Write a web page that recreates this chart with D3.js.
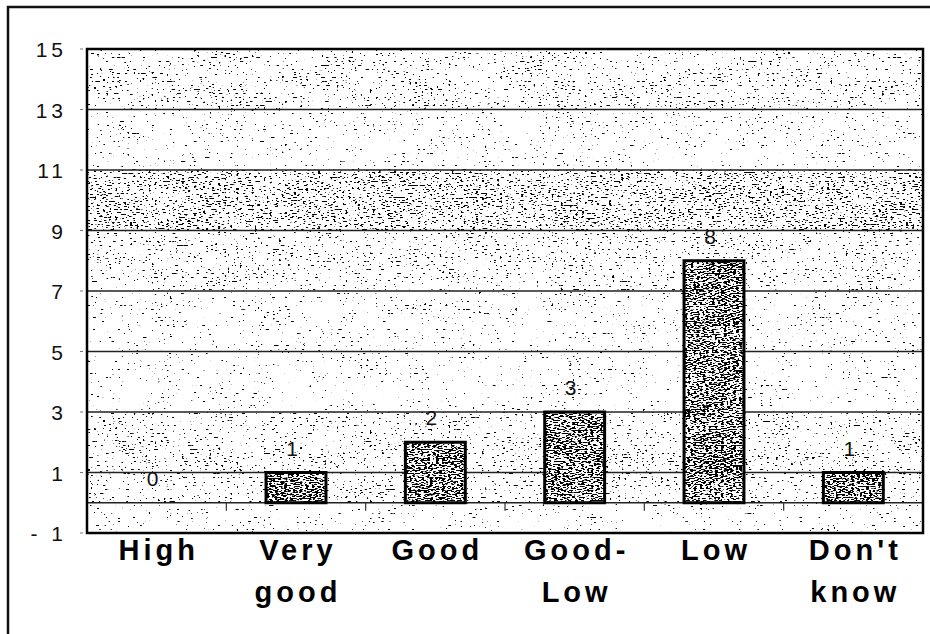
<!DOCTYPE html>
<html>
<head>
<meta charset="utf-8">
<script src="https://cdn.jsdelivr.net/npm/d3@7"></script>
<style>
  body { margin: 0; background: #fff; }
  svg { display: block; font-family: "Liberation Sans", Arial, sans-serif; }
</style>
</head>
<body>
<div id="app"></div>
<script>
// chart data
const categories = ['High', 'Very good', 'Good', 'Good-Low', 'Low', "Don't know"];
const categoryLines = [['High'], ['Very', 'good'], ['Good'], ['Good-', 'Low'], ['Low'], ["Don't", 'know']];
const values = [0, 1, 2, 3, 8, 1];
const yTicks = [-1, 1, 3, 5, 7, 9, 11, 13, 15];
const gridValues = [0, 1, 3, 5, 7, 9, 11, 13];

const WIDTH = 930;
const HEIGHT = 634;
const PLOT = { left: 87, right: 923, top: 49, bottom: 533 };

// stipple threshold per one-unit band, from -1..0 up to 14..15 (lower = darker)
const BAND_THRESHOLD = [0.70, 0.66, 0.655, 0.67, 0.70, 0.70, 0.695, 0.69,
  0.67, 0.66, 0.605, 0.61, 0.695, 0.69, 0.655, 0.67];
const BAR_THRESHOLD = 0.5;

const svg = d3.select('#app')
  .append('svg')
  .attr('width', WIDTH)
  .attr('height', HEIGHT);

const defs = svg.append('defs');

const y = d3.scaleLinear().domain([-1, 15]).range([PLOT.bottom, PLOT.top]);
const x = d3.scaleBand().domain(categories)
  .range([PLOT.left, PLOT.right])
  .paddingInner(0.57)
  .paddingOuter(0.285);

// scanned-halftone look: fine specks, lightly modulated by a coarse cloud
function stipple(id, t) {
  const s = 30;
  const opaque = '1 0 0 0 0  0 1 0 0 0  0 0 1 0 0  0 0 0 0 1';
  const f = defs.append('filter')
    .attr('id', id)
    .attr('x', 0).attr('y', 0)
    .attr('width', 1).attr('height', 1)
    .attr('color-interpolation-filters', 'sRGB');
  f.append('feTurbulence')
    .attr('type', 'fractalNoise')
    .attr('baseFrequency', '0.33 0.75')
    .attr('numOctaves', 1)
    .attr('seed', 11)
    .attr('result', 'fineRaw');
  f.append('feColorMatrix').attr('in', 'fineRaw').attr('type', 'matrix')
    .attr('values', opaque).attr('result', 'fine');
  f.append('feTurbulence')
    .attr('type', 'fractalNoise')
    .attr('baseFrequency', '0.02 0.06')
    .attr('numOctaves', 2)
    .attr('seed', 4)
    .attr('result', 'coarseRaw');
  f.append('feColorMatrix').attr('in', 'coarseRaw').attr('type', 'matrix')
    .attr('values', opaque).attr('result', 'coarse');
  f.append('feComposite')
    .attr('in', 'fine').attr('in2', 'coarse')
    .attr('operator', 'arithmetic')
    .attr('k1', 0).attr('k2', 0.95).attr('k3', 0.12).attr('k4', -0.035)
    .attr('result', 'mix');
  f.append('feColorMatrix')
    .attr('in', 'mix')
    .attr('type', 'matrix')
    .attr('values', `0 0 0 0 0  0 0 0 0 0  0 0 0 0 0  ${s} 0 0 0 ${-s * t}`);
  return `url(#${id})`;
}

// outer frame
svg.append('rect')
  .attr('x', 8).attr('y', 7)
  .attr('width', 960).attr('height', 680)
  .attr('fill', 'none')
  .attr('stroke', '#111')
  .attr('stroke-width', 2.5);

// textured background, one strip per unit
const bg = svg.append('g').attr('id', 'texture');
BAND_THRESHOLD.forEach((t, i) => {
  const lo = -1 + i;
  bg.append('rect')
    .attr('x', PLOT.left)
    .attr('y', y(lo + 1))
    .attr('width', PLOT.right - PLOT.left)
    .attr('height', y(lo) - y(lo + 1))
    .attr('fill', '#000')
    .attr('filter', stipple(`band-${i}`, t));
});

// gridlines
svg.append('g').attr('id', 'grid')
  .selectAll('line')
  .data(gridValues)
  .join('line')
  .attr('x1', PLOT.left).attr('x2', PLOT.right)
  .attr('y1', d => y(d)).attr('y2', d => y(d))
  .attr('stroke', '#222')
  .attr('stroke-width', 1.4);

// category ticks hanging from the zero line
const step = x.step();
svg.append('g').attr('id', 'xticks')
  .selectAll('line')
  .data(categories.slice(1))
  .join('line')
  .attr('x1', d => x(d) - x.paddingInner() * step / 2)
  .attr('x2', d => x(d) - x.paddingInner() * step / 2)
  .attr('y1', y(0)).attr('y2', y(0) + 8)
  .attr('stroke', '#333')
  .attr('stroke-width', 1.2);

// bars
const barFilter = stipple('bar-tex', BAR_THRESHOLD);
const bars = svg.append('g').attr('id', 'bars')
  .selectAll('g')
  .data(values.map((v, i) => ({ cat: categories[i], v })))
  .join('g');

bars.append('rect')
  .attr('x', d => x(d.cat))
  .attr('y', d => y(d.v))
  .attr('width', x.bandwidth())
  .attr('height', d => y(0) - y(d.v))
  .attr('fill', '#fff');

bars.append('rect')
  .attr('x', d => x(d.cat))
  .attr('y', d => y(d.v))
  .attr('width', x.bandwidth())
  .attr('height', d => y(0) - y(d.v))
  .attr('fill', '#000')
  .attr('filter', barFilter);

bars.append('rect')
  .attr('x', d => x(d.cat))
  .attr('y', d => y(d.v))
  .attr('width', x.bandwidth())
  .attr('height', d => y(0) - y(d.v))
  .attr('fill', 'none')
  .attr('stroke', '#000')
  .attr('stroke-width', 3);

bars.append('text')
  .attr('x', d => x(d.cat) + x.bandwidth() / 2 - 4)
  .attr('y', d => y(d.v) - 17)
  .attr('text-anchor', 'middle')
  .attr('font-size', 21)
  .attr('fill', '#111')
  .text(d => d.v);

// plot frame
svg.append('rect')
  .attr('x', PLOT.left).attr('y', PLOT.top)
  .attr('width', PLOT.right - PLOT.left)
  .attr('height', PLOT.bottom - PLOT.top)
  .attr('fill', 'none')
  .attr('stroke', '#000')
  .attr('stroke-width', 2.5);

// y axis
const yAxis = svg.append('g').attr('id', 'yaxis');
yAxis.selectAll('line')
  .data(yTicks)
  .join('line')
  .attr('x1', PLOT.left - 7).attr('x2', PLOT.left - 4)
  .attr('y1', d => y(d)).attr('y2', d => y(d))
  .attr('stroke', '#777');
yAxis.selectAll('text')
  .data(yTicks)
  .join('text')
  .attr('x', 67)
  .attr('y', d => y(d) + 8)
  .attr('text-anchor', 'end')
  .attr('font-size', 21)
  .attr('letter-spacing', 4)
  .attr('fill', '#111')
  .text(d => d < 0 ? '- ' + Math.abs(d) : d);

// category labels
const xLabels = svg.append('g').attr('id', 'xlabels');
categories.forEach((c, i) => {
  const t = xLabels.append('text')
    .attr('x', x(c) + x.bandwidth() / 2 + 2)
    .attr('y', 560)
    .attr('text-anchor', 'middle')
    .attr('font-size', 29)
    .attr('font-weight', 'bold')
    .attr('letter-spacing', 4)
    .attr('fill', '#000');
  categoryLines[i].forEach((line, j) => {
    t.append('tspan')
      .attr('x', x(c) + x.bandwidth() / 2 + 2)
      .attr('dy', j === 0 ? 0 : 42)
      .text(line);
  });
});
</script>
</body>
</html>
